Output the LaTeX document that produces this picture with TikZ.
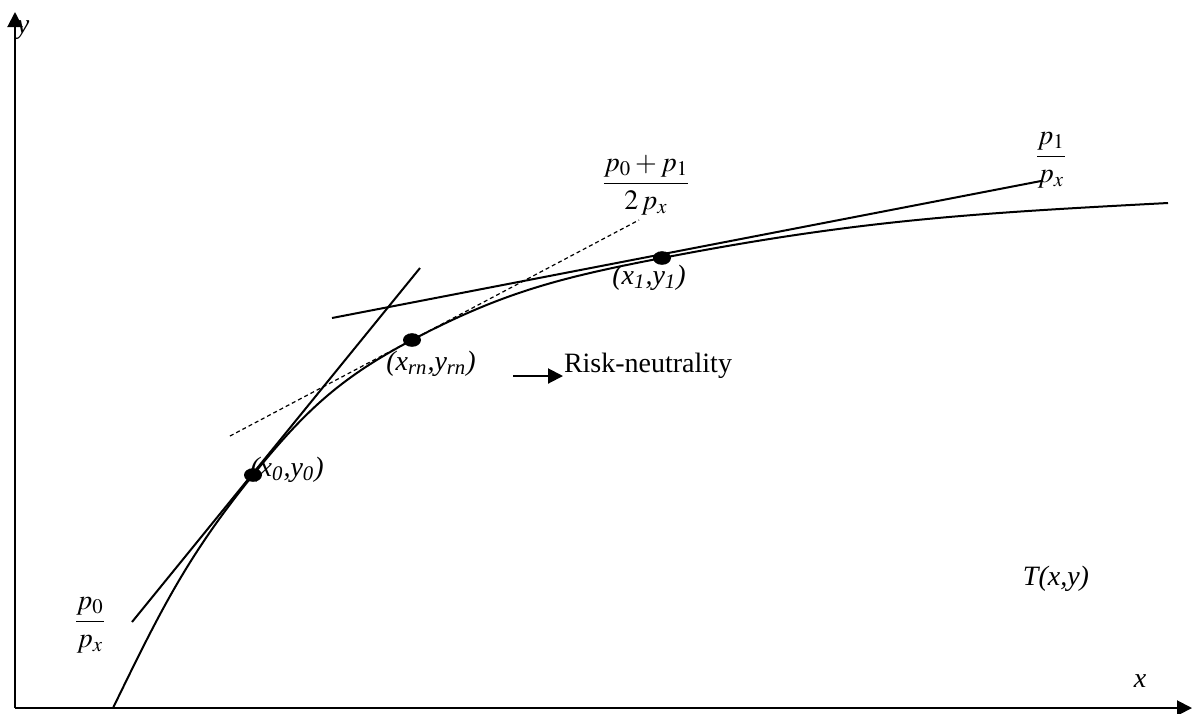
\documentclass[tikz,border=0pt]{standalone}
\usepackage{amsmath}
\usepackage{mathptmx}
\usepackage{fontspec}
\setmainfont{Liberation Serif}
\usetikzlibrary{shapes.geometric,arrows.meta}
\tikzset{
  dot/.style={ellipse,fill,inner sep=0pt,minimum width=9pt,minimum height=6.8pt},
  lbl/.style={font=\fontsize{14}{17}\selectfont\itshape},
  tip/.style={-{Triangle[length=7.5pt,width=7.5pt]}},
}
\begin{document}
\begin{tikzpicture}[x=0.5pt,y=-0.5pt,line width=1pt,font=\fontsize{14}{17}\selectfont]
  \useasboundingbox (0,0) rectangle (1192,713);

  % axes
  \coordinate (o) at (15,708);
  \coordinate (ytop) at (15,12);
  \coordinate (xend) at (1192,708);
  \draw[tip] (o) -- (ytop);
  \draw[tip] (o) -- (xend);
  \node[lbl] (ylab) at (23,30) {y};
  \node[lbl] (xlab) at (1140,681) {x};

  % points on the frontier
  \node[dot] (x0) at (253,475) {};
  \node[dot] (xrn) at (412,340) {};
  \node[dot] (x1) at (662,258) {};
  \coordinate (start) at (113,708);
  \coordinate (end) at (1168,203);

  \draw (start) to[out=64,in=231] (x0.center) to[out=51,in=207.8] (xrn.center)
        to[out=27.8,in=190.9] (x1.center) to[out=10.9,in=183] (end);

  % price lines
  \coordinate (a0) at (132,622);
  \coordinate (b0) at (420,268);
  \coordinate (a1) at (332,318);
  \coordinate (b1) at (1041,181);
  \coordinate (arn) at (230,436);
  \coordinate (brn) at (639,220);
  \draw (a0) -- (b0);
  \draw (a1) -- (b1);
  \draw[line width=0.6pt,dash pattern=on 2pt off 1.5pt] (arn) -- (brn);

  \node[lbl] (l0) at (287,470) {(x\textsubscript{0},y\textsubscript{0})};
  \node[lbl] (lrn) at (431,364) {(x\textsubscript{rn},y\textsubscript{rn})};
  \node[lbl] (l1) at (649,278) {(x\textsubscript{1},y\textsubscript{1})};
  \node[lbl] (tlab) at (1056,579) {T(x,y)};

  \node (f0) at (90,625) {$\dfrac{p_0}{p_x}$};
  \node (frn) at (646,185) {$\dfrac{p_0+p_1}{2\,p_x}$};
  \node (f1) at (1051,160) {$\dfrac{p_1}{p_x}$};

  % risk-neutrality arrow
  \node[anchor=west,inner sep=0pt] (rn) at (563,366) {Risk-neutrality};
  \coordinate (rnfrom) at (513,376);
  \draw[tip] (rnfrom) -- (rnfrom -| rn.west);
\end{tikzpicture}
\end{document}
